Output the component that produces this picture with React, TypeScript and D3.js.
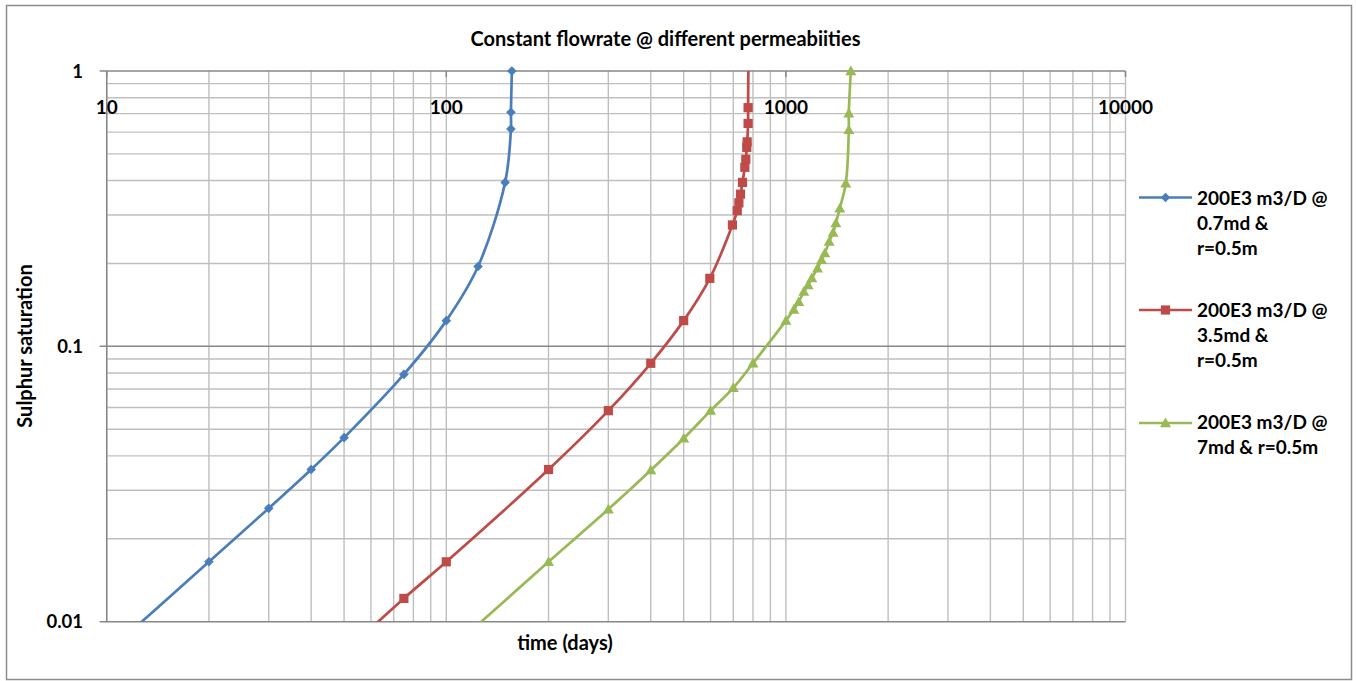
import React from "react";
import * as d3 from "d3";

// ---- data ----
const blueTime = [10, 20, 30, 40, 50, 75, 100, 124, 149, 155, 155, 156];
const blueSat = [0.0077, 0.0165, 0.0258, 0.0357, 0.0466, 0.0791, 0.124, 0.195, 0.394, 0.616, 0.708, 1.0];

const redTime = [50, 75, 100, 200, 300, 400, 500, 597, 696, 719, 727, 735, 745, 757, 762, 767, 769, 774, 774, 776];
const redSat = [0.0077, 0.01215, 0.0165, 0.0357, 0.0584, 0.0868, 0.124, 0.1766, 0.276, 0.311, 0.332, 0.357, 0.394, 0.447, 0.478, 0.528, 0.553, 0.645, 0.736, 1.2];

const greenTime = [100, 200, 300, 400, 500, 600, 700, 800, 1000, 1055, 1091, 1129, 1163, 1192, 1239, 1273, 1302, 1341, 1377, 1403, 1441, 1501, 1532, 1532, 1553];
const greenSat = [0.0077, 0.0165, 0.0256, 0.0355, 0.0463, 0.0584, 0.0707, 0.0868, 0.124, 0.136, 0.145, 0.158, 0.167, 0.177, 0.192, 0.206, 0.218, 0.240, 0.259, 0.280, 0.317, 0.391, 0.611, 0.702, 1.0];

const seriesNames = [
  ["200E3 m3/D @", "0.7md &", "r=0.5m"],
  ["200E3 m3/D @", "3.5md &", "r=0.5m"],
  ["200E3 m3/D @", "7md & r=0.5m"],
];
const xTickValues = [10, 100, 1000, 10000];
const yTickValues = [1, 0.1, 0.01];
const yTickLabels = ["1", "0.1", "0.01"];

const titleText = "Constant flowrate @ different permeabiities";
const xTitle = "time (days)";
const yTitle = "Sulphur saturation";

const FONT = "Lato, 'Open Sans', sans-serif";

export default function App() {
  const left = 106.7, right = 1125.5, top = 71, bottom = 621.7;
  const x = d3.scaleLog().domain([10, 10000]).range([left, right]);
  const y = d3.scaleLog().domain([0.01, 1]).range([bottom, top]);

  const series = [
    { t: blueTime, s: blueSat, color: "#4A7EBB", marker: "diamond" },
    { t: redTime, s: redSat, color: "#BE4B48", marker: "square" },
    { t: greenTime, s: greenSat, color: "#98B954", marker: "triangle" },
  ];

  const line = d3
    .line<[number, number]>()
    .x((d) => x(d[0]))
    .y((d) => y(d[1]))
    .curve(d3.curveCatmullRom.alpha(0.5));

  // gridlines
  const xGrid: number[] = [];
  for (let dec = 10; dec < 10000; dec *= 10) {
    for (let k = 1; k <= 9; k++) xGrid.push(dec * k);
  }
  xGrid.push(10000);
  const yMinor: number[] = [];
  for (const dec of [0.01, 0.1]) {
    for (let k = 2; k <= 9; k++) yMinor.push(dec * k);
  }

  const marker = (type: string, cx: number, cy: number, color: string, key: any) => {
    if (type === "diamond") {
      const r = 4.8;
      return (
        <path key={key} d={`M${cx},${cy - r}L${cx + r},${cy}L${cx},${cy + r}L${cx - r},${cy}Z`} fill={color} />
      );
    }
    if (type === "square") {
      const r = 4.6;
      return <rect key={key} x={cx - r} y={cy - r} width={2 * r} height={2 * r} fill={color} />;
    }
    const r = 5.5;
    return (
      <path key={key} d={`M${cx},${cy - r}L${cx + r},${cy + r * 0.75}L${cx - r},${cy + r * 0.75}Z`} fill={color} />
    );
  };

  const legendY = [197.5, 310, 423];
  const legendBase = [[205, 230, 255], [317, 342, 367], [428.5, 454]];

  return (
    <svg width={1356} height={681} style={{ position: "absolute", left: 0, top: 0, background: "#fff" }}>
      <rect x={0} y={0} width={1356} height={681} fill="#fff" />
      <rect x={6.5} y={5.5} width={1345} height={674} fill="none" stroke="#8c8c8c" strokeWidth={1.5} />
      <defs>
        <clipPath id="plotclip">
          <rect x={left} y={top} width={right - left} height={bottom - top} />
        </clipPath>
      </defs>

      {/* vertical gridlines */}
      {xGrid.map((v, i) => (
        <line key={"vx" + i} x1={x(v)} x2={x(v)} y1={top} y2={bottom} stroke="#bfbfbf" strokeWidth={1.4} />
      ))}
      {/* horizontal minor */}
      {yMinor.map((v, i) => (
        <line key={"hy" + i} x1={left} x2={right} y1={y(v)} y2={y(v)} stroke="#bfbfbf" strokeWidth={1.4} />
      ))}
      {/* horizontal major + ticks */}
      {yTickValues.map((v, i) => (
        <line key={"hm" + i} x1={left - 7} x2={right} y1={y(v)} y2={y(v)} stroke="#878787" strokeWidth={1.5} />
      ))}
      {/* y axis line */}
      <line x1={left} x2={left} y1={top} y2={bottom} stroke="#878787" strokeWidth={1.5} />
      {/* x axis ticks at top */}
      {xTickValues.map((v, i) => (
        <line key={"xt" + i} x1={x(v)} x2={x(v)} y1={top} y2={top + 6} stroke="#878787" strokeWidth={1.5} />
      ))}

      {/* series lines */}
      <g clipPath="url(#plotclip)">
        {series.map((sr, i) => (
          <path
            key={"l" + i}
            d={line(sr.t.map((t, j) => [t, sr.s[j]] as [number, number])) || ""}
            fill="none"
            stroke={sr.color}
            strokeWidth={2.7}
            strokeLinejoin="round"
          />
        ))}
      </g>
      {/* markers */}
      {series.map((sr, i) => (
        <g key={"m" + i}>
          {sr.t.map((t, j) =>
            sr.s[j] >= 0.01 && sr.s[j] <= 1 ? marker(sr.marker, x(t), y(sr.s[j]), sr.color, j) : null
          )}
        </g>
      ))}

      {/* tick labels */}
      {xTickValues.map((v, i) => (
        <text key={"xl" + i} x={x(v)} y={114} textAnchor="middle" fontFamily={FONT} fontWeight="bold" fontSize={19} fill="#000">
          {String(v)}
        </text>
      ))}
      {yTickValues.map((v, i) => (
        <text key={"yl" + i} x={83} y={y(v) + 6.5} textAnchor="end" fontFamily={FONT} fontWeight="bold" fontSize={18.5} fill="#000">
          {yTickLabels[i]}
        </text>
      ))}

      {/* titles */}
      <text x={665.5} y={46} textAnchor="middle" fontFamily={FONT} fontWeight="bold" fontSize={20} fill="#000">
        {titleText}
      </text>
      <text x={565} y={650} textAnchor="middle" fontFamily={FONT} fontWeight="bold" fontSize={20} fill="#000">
        {xTitle}
      </text>
      <text
        transform={`translate(31.5,346) rotate(-90)`}
        textAnchor="middle"
        fontFamily={FONT}
        fontWeight="bold"
        fontSize={20}
        fill="#000"
      >
        {yTitle}
      </text>

      {/* legend */}
      {series.map((sr, i) => (
        <g key={"lg" + i}>
          <line x1={1139} x2={1192} y1={legendY[i]} y2={legendY[i]} stroke={sr.color} strokeWidth={2.7} />
          {marker(sr.marker, 1165.5, legendY[i], sr.color, "lm")}
          {seriesNames[i].map((txt, k) => (
            <text key={k} x={1197} y={legendBase[i][k]} fontFamily={FONT} fontWeight="bold" fontSize={19} fill="#000">
              {txt}
            </text>
          ))}
        </g>
      ))}
    </svg>
  );
}
